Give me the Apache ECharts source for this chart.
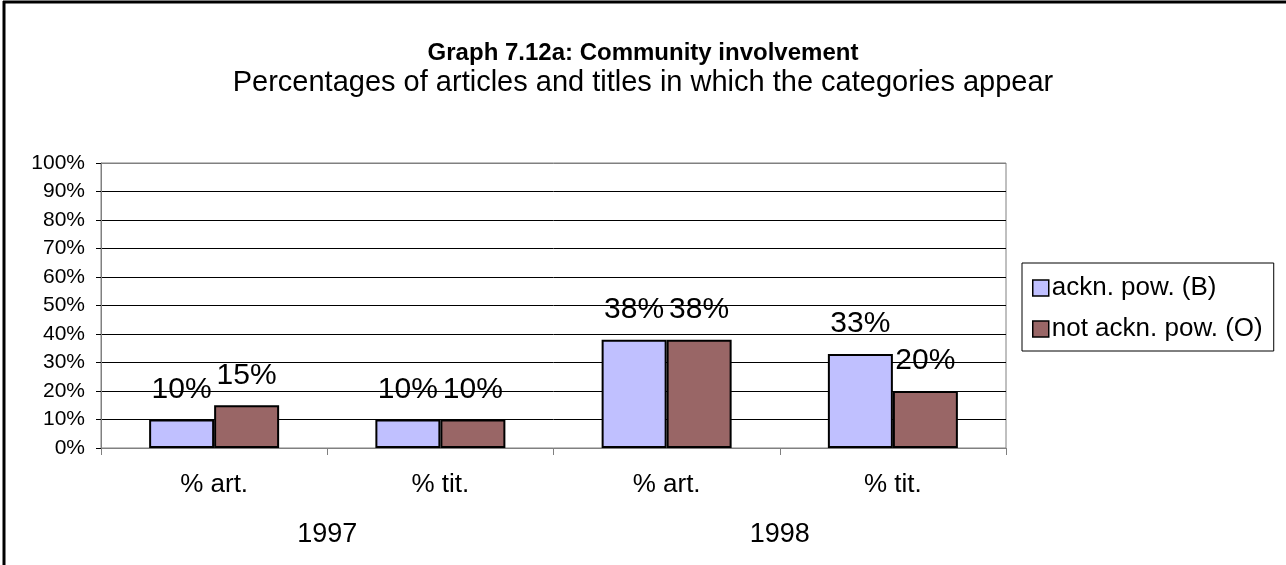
<!DOCTYPE html>
<html>
<head>
<meta charset="utf-8">
<title>Graph 7.12a</title>
<script src="https://cdn.jsdelivr.net/npm/echarts@6/dist/echarts.min.js"></script>
<style>
  html, body { margin: 0; padding: 0; background: #fff; }
  #chart { width: 1286px; height: 565px; }
</style>
</head>
<body>
<div id="chart"></div>
<script>
// values (percent)
const categories = ['% art.', '% tit.', '% art.', '% tit.'];
const years = ['1997', '1998'];
const acknPow = [10, 10, 38, 33];
const notAcknPow = [15, 10, 38, 20];
const seriesNames = ['ackn. pow. (B)', 'not ackn. pow. (O)'];

const FONT = "'Liberation Sans', Arial, sans-serif";

function barSeries(name, data, color) {
  return {
    name: name,
    type: 'bar',
    data: data,
    barWidth: 65,
    barGap: '0%',
    itemStyle: { color: color, borderColor: '#000', borderWidth: 2 },
    label: {
      show: true,
      position: 'top',
      distance: 15,
      formatter: '{c}%',
      fontFamily: FONT,
      fontSize: 30,
      color: '#000',
    },
  };
}

const chart = echarts.init(document.getElementById('chart'));

chart.setOption({
  animation: false,
  backgroundColor: '#fff',
  textStyle: { fontFamily: FONT, color: '#000' },
  title: {
    text: 'Graph 7.12a: Community involvement',
    subtext: 'Percentages of articles and titles in which the categories appear',
    left: 'center',
    top: 36,
    itemGap: 3,
    textStyle: { fontFamily: FONT, fontSize: 24, fontWeight: 'bold', color: '#000' },
    subtextStyle: { fontFamily: FONT, fontSize: 29, color: '#000' },
  },
  legend: {
    orient: 'vertical',
    left: 1022,
    top: 263,
    padding: [12, 11, 9, 10],
    borderColor: '#000',
    borderWidth: 1,
    itemWidth: 16,
    itemHeight: 16,
    itemGap: 15,
    icon: 'rect',
    itemStyle: { borderColor: '#000', borderWidth: 1.5 },
    textStyle: { fontFamily: FONT, fontSize: 26, lineHeight: 25, color: '#000', padding: [0, 0, 0, -2] },
    data: seriesNames,
  },
  grid: {
    left: 101,
    right: 280,
    top: 163,
    bottom: 117,
    show: true,
    borderColor: '#808080',
    borderWidth: 1,
  },
  xAxis: [
    {
      type: 'category',
      data: categories,
      axisLine: { lineStyle: { color: '#808080', width: 1 } },
      axisTick: { show: true, length: 7, lineStyle: { color: '#808080' } },
      axisLabel: { fontFamily: FONT, fontSize: 26, color: '#000', margin: 24 },
    },
    {
      type: 'category',
      data: years,
      position: 'bottom',
      axisLine: { show: false },
      axisTick: { show: false },
      axisLabel: { fontFamily: FONT, fontSize: 27, color: '#000', margin: 73 },
    },
  ],
  yAxis: {
    type: 'value',
    min: 0,
    max: 100,
    interval: 10,
    axisLine: { show: true, lineStyle: { color: '#808080', width: 1 } },
    axisTick: { show: true, length: 5, lineStyle: { color: '#000' } },
    axisLabel: { fontFamily: FONT, fontSize: 21, color: '#000', margin: 16, formatter: '{value}%' },
    splitLine: {
      show: true,
      lineStyle: {
        color: ['#808080', '#000', '#000', '#000', '#000', '#000', '#000', '#000', '#000', '#000', '#808080'],
        width: 1,
      },
    },
  },
  graphic: [
    { type: 'line', shape: { x1: 4, y1: 1, x2: 4, y2: 565 }, style: { stroke: '#000', lineWidth: 3 } },
    { type: 'line', shape: { x1: 3, y1: 2, x2: 1286, y2: 2 }, style: { stroke: '#000', lineWidth: 3 } },
  ],
  series: [
    barSeries(seriesNames[0], acknPow, '#C0C0FF'),
    barSeries(seriesNames[1], notAcknPow, '#996666'),
  ],
});
</script>
</body>
</html>
